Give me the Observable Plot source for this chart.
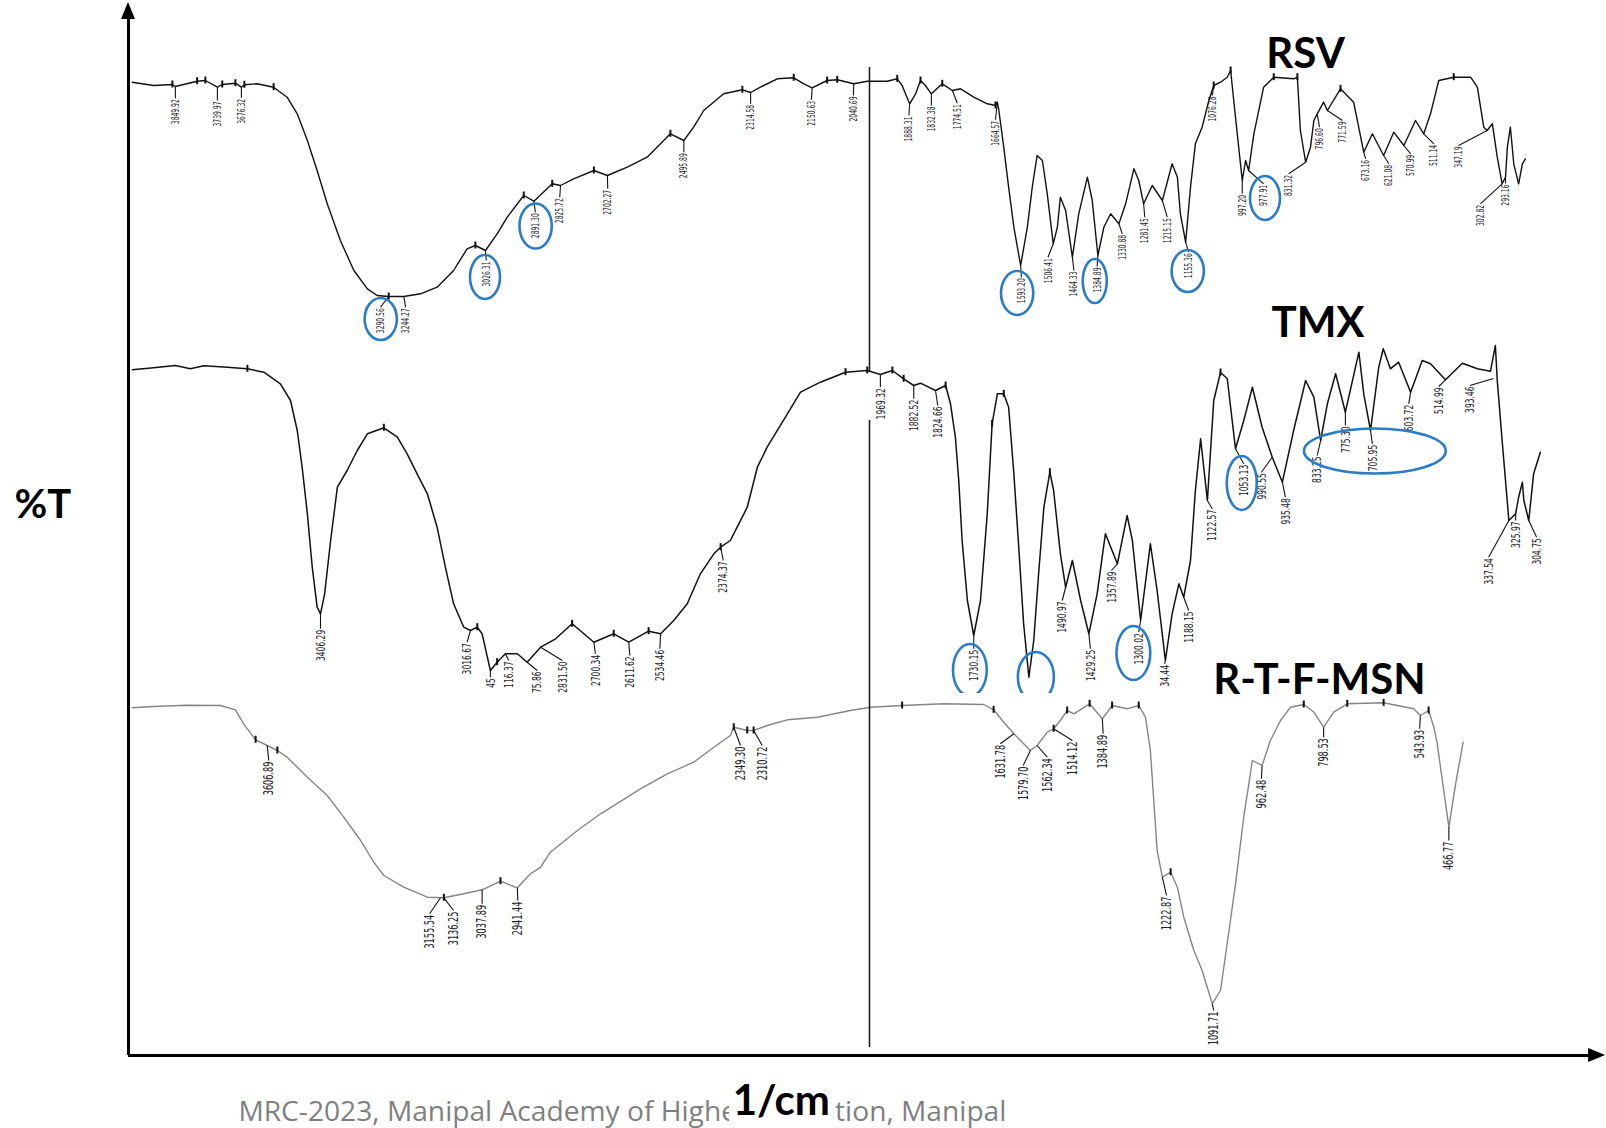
<!DOCTYPE html>
<html><head><meta charset="utf-8">
<script src="https://cdn.jsdelivr.net/npm/d3@7"></script>
<script src="https://cdn.jsdelivr.net/npm/@observablehq/plot@0.6"></script>
<style>html,body{margin:0;padding:0;background:#fff;} svg{display:block}</style>
</head><body><div id="chart"></div>
<script>
// ---------- RSV spectrum (wavenumber cm-1, %T stacked) ----------
const rsvWn = [3966,3909,3859,3851,3793,3771,3739,3726,3691,3675,3667,3633,3589,3553,3526,3499,3473,3446,3411,3375,3339,3313,3282,3242,3197,3153,3109,3073,3051,3024,2993,2966,2922,2895,2846,2824,2789,2735,2699,2646,2593,2531,2495,2469,2442,2389,2339,2317,2291,2246,2202,2175,2153,2113,2086,2042,2006,1953,1926,1913,1893,1877,1864,1851,1835,1806,1779,1757,1722,1686,1664,1659,1655,1642,1629,1615,1597,1579,1566,1553,1539,1526,1510,1499,1491,1477,1459,1442,1419,1406,1391,1375,1357,1335,1317,1295,1282,1269,1246,1219,1193,1179,1171,1157,1144,1131,1113,1095,1082,1064,1046,1037,1024,1006,997,989,975,949,922,869,859,851,837,824,815,806,789,779,744,709,682,659,629,602,575,544,522,504,482,442,397,379,362,353,339,326,313,304,299,291,282,269,259,251];
const rsvT = [97.33,97.0,97.1,96.9,97.43,97.5,96.83,97.1,97.23,96.83,97.07,97.17,96.83,95.83,94.17,91.5,88.5,85.17,81.5,78.5,76.67,76.0,75.9,75.9,76.17,76.83,78.5,80.67,81.0,80.5,82.17,83.83,86.0,85.43,87.17,87.0,87.67,88.5,88.0,88.83,89.83,92.17,91.5,92.83,94.5,96.17,96.57,96.3,96.83,97.67,97.77,97.17,96.77,97.5,97.57,97.17,97.43,97.43,97.67,97.0,95.17,96.17,97.5,97.0,96.17,97.17,96.5,96.67,95.83,95.17,95.0,95.33,94.5,90.83,86.83,82.83,79.0,82.83,86.83,90.0,89.5,86.17,81.17,82.83,85.83,84.5,79.83,84.17,87.83,85.5,80.0,82.83,84.17,83.17,85.17,88.67,87.5,85.17,87.0,85.5,89.17,87.83,84.17,81.33,86.83,91.17,92.83,95.5,97.0,97.33,97.83,98.5,93.83,87.5,89.5,88.5,92.17,96.83,97.83,97.67,97.83,92.5,89.33,90.83,93.5,94.17,95.33,94.5,96.67,95.33,90.33,92.17,90.0,92.33,91.0,93.5,92.17,94.17,97.5,97.83,97.83,96.83,92.83,92.5,93.17,89.83,87.17,87.83,90.83,92.83,89.17,87.17,89.17,89.67];

// ---------- TMX spectrum ----------
const tmxWn = [3966,3909,3851,3811,3775,3713,3659,3615,3571,3544,3526,3513,3499,3486,3473,3464,3453,3437,3419,3393,3366,3339,3295,3259,3233,3202,3179,3153,3131,3109,3082,3064,3046,3033,3011,2993,2971,2939,2913,2877,2837,2793,2735,2682,2642,2589,2557,2522,2486,2451,2415,2397,2371,2353,2326,2299,2273,2219,2184,2131,2064,2006,1971,1939,1909,1882,1864,1824,1797,1784,1771,1762,1753,1739,1722,1704,1686,1673,1659,1642,1629,1615,1602,1589,1575,1562,1549,1535,1519,1509,1491,1477,1459,1437,1415,1393,1371,1339,1313,1299,1277,1251,1233,1211,1193,1175,1162,1144,1131,1117,1099,1082,1064,1046,1024,1002,979,953,926,899,869,837,815,797,779,757,731,695,682,664,642,630,611,589,557,526,504,464,419,379,344,331,326,313,295,277,269,259,255,242,229,211];
const tmxT = [68.57,68.77,69.0,68.67,68.97,68.83,68.67,68.33,67.17,65.5,62.5,58.83,54.17,48.83,44.83,44.17,46.17,51.5,56.83,58.5,60.5,62.17,62.77,61.83,60.17,57.83,56.17,52.83,48.83,45.17,42.83,42.5,42.83,42.17,38.5,39.33,40.17,40.17,39.33,40.83,41.67,43.17,41.33,42.17,41.33,42.43,42.17,43.5,45.17,48.17,50.17,50.83,51.5,52.83,54.83,58.83,60.83,64.17,66.33,67.33,68.33,68.5,68.1,68.5,67.67,67.0,67.23,66.5,67.0,65.17,61.83,57.5,51.5,45.5,42.0,45.5,54.17,63.17,66.17,66.17,64.83,58.17,50.83,43.17,37.83,41.5,48.17,54.83,58.33,56.5,50.17,46.83,49.5,45.5,42.17,46.17,52.17,49.17,54.0,51.5,43.5,51.17,46.5,39.5,44.17,47.17,45.83,49.5,56.5,61.67,55.5,65.5,68.3,67.7,60.67,63.5,66.83,62.83,59.83,57.33,62.5,67.5,65.83,61.5,65.17,68.17,64.33,70.33,66.17,62.5,68.83,70.67,68.67,69.33,66.33,69.5,69.17,67.57,69.23,68.67,68.43,71.0,67.5,61.5,53.5,54.17,55.83,57.33,55.5,53.5,58.17,60.33];

// ---------- R-T-F-MSN spectrum ----------
const msnWn = [3966,3909,3819,3731,3691,3669,3637,3606,3579,3553,3499,3446,3402,3357,3322,3295,3242,3179,3135,3082,3033,2984,2939,2904,2877,2851,2779,2717,2611,2539,2469,2415,2371,2362,2326,2309,2273,2219,2139,2051,1997,1913,1802,1695,1669,1642,1615,1571,1553,1526,1509,1491,1473,1455,1413,1379,1353,1313,1282,1264,1251,1242,1233,1219,1197,1179,1162,1135,1113,1086,1064,1045,1024,1002,979,953,931,904,877,842,815,789,762,726,629,549,531,509,495,486,455,437,417];
const msnT = [34.77,34.9,35.03,35.0,34.57,33.17,31.57,31.0,30.5,29.83,27.83,26.0,23.83,21.5,19.33,18.0,16.83,15.83,15.77,16.17,16.57,17.43,16.77,18.17,18.83,20.33,22.5,24.17,26.67,28.17,29.33,30.83,32.0,32.83,32.5,32.5,33.0,33.57,33.83,34.5,34.83,35.0,35.17,35.1,34.57,33.33,32.17,30.5,31.0,32.33,32.67,33.5,34.5,34.17,35.17,33.67,35.0,34.67,35.0,33.83,30.5,25.5,20.5,17.83,18.33,16.83,13.83,10.5,8.5,5.17,6.5,11.5,17.17,23.83,29.5,29.0,31.5,33.5,34.83,35.1,34.33,32.83,34.33,35.17,35.27,34.67,34.0,34.5,32.83,31.17,22.83,27.17,31.33];

// ---------- peak labels: [text, peak wn, peak %T, label wn, label %T] ----------
const rsvPeaks = [
["3849.92",3851,96.9,3851,95.73],["3739.97",3739,96.83,3739,95.5],["3676.32",3675,96.83,3675,95.77],
["3290.56",3282,75.9,3304,74.83],["3244.27",3242,75.9,3237,74.83],["3026.31",3024,80.5,3022,79.5],
["2891.30",2895,85.43,2891,84.33],["2825.72",2824,87.0,2826,85.83],["2702.27",2699,88.0,2698,86.67],
["2495.89",2495,91.5,2495,90.33],["2314.58",2317,96.3,2317,95.17],["2150.63",2153,96.77,2155,95.57],
["2040.69",2042,97.17,2043,96.0],["1888.31",1893,95.17,1895,94.0],["1832.38",1835,96.17,1835,95.0],
["1774.51",1779,96.5,1766,95.23],["1664.57",1659,95.33,1664,93.57],["1593.20",1597,79.0,1595,77.83],
["1506.41",1510,81.17,1524,79.83],["1464.33",1459,79.83,1455,78.5],["1384.89",1391,80.0,1393,78.9],
["1330.88",1335,83.17,1326,82.17],["1281.45",1269,85.17,1266,83.83],["1215.15",1219,85.5,1206,83.83],
["1155.36",1157,81.33,1149,80.33],["1076.28",1082,97.0,1086,96.0],["997.20",1006,87.5,1006,86.17],
["977.91",989,88.5,949,87.17],["831.32",837,89.33,882,88.17],["796.60",806,94.17,800,92.83],
["771.59",779,94.5,739,93.5],["673.16",682,90.33,677,89.67],["621.08",629,90.0,615,89.17],
["570.99",575,91.0,557,90.17],["511.14",522,92.17,495,91.17],["347.19",353,92.5,429,91.0],
["302.82",313,87.17,371,85.17],["293.16",304,87.83,304,87.2]
];
const tmxPeaks = [
["3406.29",3464,44.17,3464,42.67],["3016.67",3064,42.5,3073,41.33],["45",3011,38.5,3011,37.83],
["116.37",2971,40.17,2962,39.5],["75.86",2913,39.33,2886,38.5],["2831.50",2877,40.83,2819,39.5],
["2700.34",2735,41.33,2731,40.17],["2611.62",2642,41.33,2639,40.0],["2534.46",2557,42.17,2559,40.67],
["2374.37",2397,50.83,2390,49.5],["1969.32",1971,68.1,1971,66.83],["1882.52",1882,67.0,1882,65.67],
["1824.66",1824,66.5,1818,65.0],["1730.15",1722,42.0,1722,40.67],["1490.97",1477,46.83,1486,45.5],
["1429.25",1415,42.17,1411,40.67],["1357.89",1339,49.17,1355,48.5],["1300.02",1277,43.5,1282,42.33],
["34.44",1211,39.5,1213,39.17],["1188.15",1162,45.83,1149,44.5],["1122.57",1099,55.5,1086,54.67],
["1053.13",1024,60.67,1002,59.17],["990.55",926,59.83,955,58.33],["935.48",899,57.33,891,55.83],
["833.25",797,61.5,806,60.0],["775.30",731,64.33,731,63.0],["705.95",664,62.5,659,61.17],
["603.72",557,66.33,562,65.17],["514.99",464,67.57,482,66.9],["393.46",336,67.7,399,67.0],
["337.54",295,53.5,349,49.83],["325.97",277,54.17,277,53.5],["304.75",242,53.5,221,51.83]
];
const msnPeaks = [
["3606.89",3606,31.0,3602,29.5],["3155.54",3144,15.77,3173,14.17],["3136.25",3135,15.77,3109,14.5],
["3037.89",3033,16.57,3033,15.17],["2941.44",2939,16.77,2938,15.5],["2349.30",2362,32.83,2344,31.0],
["2310.72",2309,32.5,2286,31.0],["1631.78",1615,32.17,1651,31.17],["1579.70",1571,30.5,1590,29.0],
["1562.34",1553,31.0,1526,29.83],["1514.12",1509,32.67,1459,31.5],["1384.89",1379,33.67,1377,32.17],
["1222.87",1219,17.83,1208,16.0],["1091.71",1086,5.17,1082,4.5],["962.48",953,29.0,955,27.67],
["798.53",789,32.83,789,31.83],["543.93",531,34.0,533,32.67],["466.77",455,22.83,455,21.5]
];
// unlabeled peak-pick markers (wavenumbers; %T taken from nearest reading of the series)
const rsvTicks = [3859,3793,3771,3726,3691,3667,3589,3282,3051,2922,2846,2735,2531,2339,2202,2113,2086,1926,1864,1806,1664,1082,1037,922,859,744,442];
const tmxTicks = [3659,3295,3046,2993,2793,2682,2589,2397,2064,2006,1939,1909,1797,1673,1642,1519,1064];
const msnTicks = [3637,3579,3135,2984,2362,2326,2309,1913,1669,1509,1473,1413,1353,1282,1197,842,726,629,509];

// ---------- highlighted bands (ellipses): [wn, %T, half-width wn, half-height %T] ----------
const rsvCircles = [[3302,73.6,43,2.1],[3024,77.8,40,2.2],[2889,82.9,43,2.25],[1605,76.2,43,2.2],[1398,77.4,32,2.2],[1150,78.4,43,2.1],[944,85.7,40,2.2]];
const tmxCircles = [[1731,38.5,45,2.6],[1555,37.8,48,2.5],[1295,40.2,45,2.7],[1006,57.2,40,2.7],[651,60.4,189,2.25]];

const seriesNames = ["RSV", "TMX", "R-T-F-MSN"];
const caption = "MRC-2023, Manipal Academy of Higher Education, Manipal";
const yLabel = "%T", xLabel = "1/cm";

// ---------- build tables ----------
const rows = (wn, t) => wn.map((w, i) => ({wn: w, t: t[i]}));
const lab = arr => arr.map(([text, pw, pt, lw, lt]) => ({text, pw, pt, lw, lt}));
const ticksOn = (list, wn, t) => list.map(w => { const i = d3.minIndex(wn, v => Math.abs(v - w)); return {wn: wn[i], t: t[i]}; });
const labelFont = "'Liberation Sans Narrow','Arial Narrow','DejaVu Sans Condensed',sans-serif";
const titleFont = "Lato,'Open Sans',sans-serif";

function peakMarks(peaks, fs) {
  const L = lab(peaks);
  return [
    Plot.link(L, {x1: "pw", y1: "pt", x2: "lw", y2: "lt", stroke: "#111", strokeWidth: 1.1}),
    Plot.text(L, {x: "lw", y: "lt", text: "text", rotate: -90, textAnchor: "end", lineAnchor: "middle",
      dy: 1, fontSize: fs, fontFamily: labelFont, fill: "#1d1d2b"})
  ];
}
function tickMarks(list, wn, t) {
  return Plot.ruleX(ticksOn(list, wn, t), {x: "wn", y1: d => d.t - 0.35, y2: d => d.t + 0.35, stroke: "#111", strokeWidth: 2});
}

const chart = Plot.plot({
  width: 1606, height: 1128, margin: 0,
  x: {type: "linear", domain: [4000, 0], range: [119, 1619], axis: null},
  y: {type: "linear", domain: [0, 105], range: [1055, 5], axis: null},
  style: {background: "white", overflow: "visible"},
  marks: [
    Plot.line(rows(rsvWn, rsvT), {x: "wn", y: "t", stroke: "#111", strokeWidth: 1.4}),
    tickMarks(rsvTicks, rsvWn, rsvT),
    ...peakMarks(rsvPeaks, 11),
    Plot.line(rows(tmxWn, tmxT), {x: "wn", y: "t", stroke: "#111", strokeWidth: 1.5}),
    tickMarks(tmxTicks, tmxWn, tmxT),
    ...peakMarks(tmxPeaks, 13),
    Plot.line(rows(msnWn, msnT), {x: "wn", y: "t", stroke: "#858585", strokeWidth: 1.4}),
    tickMarks(msnTicks, msnWn, msnT),
    ...peakMarks(msnPeaks, 13.5),
    Plot.ruleX([{y1: 68.3, y2: 98.8}, {y1: 0.8, y2: 63.5}], {x: () => 2000, y1: "y1", y2: "y2", stroke: "#111", strokeWidth: 1.5}),
    Plot.ruleX([3976], {y1: 0, y2: 103.6, stroke: "#000", strokeWidth: 3}),
    Plot.ruleY([0], {x1: 3976, x2: 80, stroke: "#000", strokeWidth: 3}),
    Plot.text([seriesNames[0]], {x: () => 837, y: () => 98.8, text: d => d, textAnchor: "middle", lineAnchor: "bottom", fontSize: 42, fontWeight: "bold", fontFamily: titleFont, fill: "#000"}),
    Plot.text([seriesNames[1]], {x: () => 804, y: () => 71.83, text: d => d, textAnchor: "middle", lineAnchor: "bottom", fontSize: 42, fontWeight: "bold", fontFamily: titleFont, fill: "#000"}),
    Plot.text([seriesNames[2]], {x: () => 800, y: () => 36.17, text: d => d, textAnchor: "middle", lineAnchor: "bottom", fontSize: 42, fontWeight: "bold", fontFamily: titleFont, fill: "#000"}),
    Plot.text([yLabel], {x: () => 4280, y: () => 53.8, text: d => d, textAnchor: "start", lineAnchor: "bottom", fontSize: 40, fontWeight: "bold", fontFamily: titleFont, fill: "#000"}),
    Plot.text([caption], {x: () => 3683, y: () => -6.5, text: d => d, textAnchor: "start", lineAnchor: "bottom", fontSize: 27, fontFamily: "'Open Sans',sans-serif", fill: "#7f7f7f"}),
    Plot.rect([0], {x1: () => 2373, x2: () => 2096, y1: () => -2.5, y2: () => -7.2, fill: "white"}),
    Plot.text([xLabel], {x: () => 2235, y: () => -5.9, text: d => d, textAnchor: "middle", lineAnchor: "bottom", fontSize: 42, fontWeight: "bold", fontFamily: titleFont, fill: "#000"})
  ]
});
document.getElementById("chart").appendChild(chart);

// ---------- post-render: condense labels, caption width, ellipses, arrowheads ----------
const svg = d3.select(chart);
const digitW = {"11": 3.85, "13": 4.8, "13.5": 5.2};
svg.selectAll("text").each(function() {
  const s = this.textContent;
  if (s === caption) {
    this.setAttribute("textLength", 768);
    this.setAttribute("lengthAdjust", "spacingAndGlyphs");
    return;
  }
  const tr = this.getAttribute("transform") || "";
  if (!tr.includes("rotate(-90")) return;
  const fs = this.parentNode.getAttribute("font-size");
  const w = digitW[fs] || 4.5;
  const dots = (s.match(/\./g) || []).length;
  const len = (s.length - dots + dots * 0.5) * w;
  this.setAttribute("textLength", len.toFixed(1));
  this.setAttribute("lengthAdjust", "spacingAndGlyphs");
});
const xs = chart.scale("x"), ys = chart.scale("y");
const clipY = ys.apply(36.2);
svg.append("defs").append("clipPath").attr("id", "tmxclip")
  .append("rect").attr("x", 0).attr("y", 0).attr("width", 1606).attr("height", clipY);
function ellipses(list, clip) {
  const g = svg.append("g").attr("fill", "none").attr("stroke", "#2a7bc8").attr("stroke-width", 2.6);
  if (clip) g.attr("clip-path", "url(#tmxclip)");
  for (const [w, t, dw, dt] of list) {
    g.append("ellipse")
      .attr("cx", xs.apply(w)).attr("cy", ys.apply(t))
      .attr("rx", Math.abs(xs.apply(w + dw) - xs.apply(w)))
      .attr("ry", Math.abs(ys.apply(t + dt) - ys.apply(t)));
  }
}
ellipses(rsvCircles, false);
ellipses(tmxCircles, true);
// arrowheads of axes
const ax = xs.apply(3976), ay0 = ys.apply(0);
const topY = ys.apply(105.3), rightX = xs.apply(37);
svg.append("path").attr("fill", "#000")
  .attr("d", `M${ax},${topY}L${ax - 7},${topY + 17}L${ax + 7},${topY + 17}Z`);
svg.append("path").attr("fill", "#000")
  .attr("d", `M${rightX},${ay0}L${rightX - 17},${ay0 - 7}L${rightX - 17},${ay0 + 7}Z`);
</script>
</body></html>
